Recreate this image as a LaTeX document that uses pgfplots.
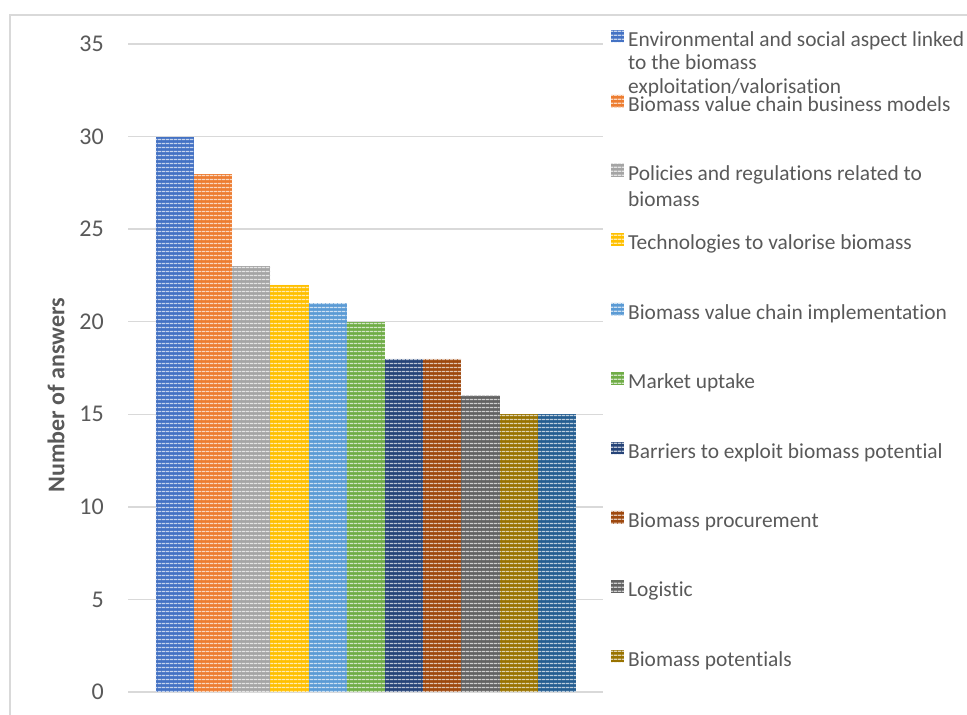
\documentclass[border=0pt]{standalone}
\usepackage{fontspec}
\setmainfont{Carlito}[Ligatures=NoCommon]
\usepackage{pgfplots}
\pgfplotsset{compat=1.18}
\usetikzlibrary{patterns.meta}

% Office palette
\definecolor{c1}{HTML}{4472C4}
\definecolor{c2}{HTML}{ED7D31}
\definecolor{c3}{HTML}{A5A5A5}
\definecolor{c4}{HTML}{FFC000}
\definecolor{c5}{HTML}{5B9BD5}
\definecolor{c6}{HTML}{70AD47}
\definecolor{c7}{HTML}{264478}
\definecolor{c8}{HTML}{9E480E}
\definecolor{c9}{HTML}{636363}
\definecolor{c10}{HTML}{997300}
\definecolor{c11}{HTML}{255E91}
\definecolor{txt}{HTML}{595959}
\definecolor{gridc}{HTML}{D9D9D9}

\tikzset{
  stripebar/.style={ybar, bar width=1, bar shift=0pt, draw=none, fill=#1,
    postaction={pattern={Lines[angle=0,distance=4pt,line width=1.6pt]},
                pattern color=#1!30!white}},
}
\newcommand{\multi}[2][25.5pt]{\parbox[t]{340pt}{\fontsize{21.4pt}{#1}\selectfont\raggedright #2}}

\begin{document}
\begin{tikzpicture}
\draw[gridc, line width=1.3pt] (10pt,-30pt) rectangle (1010pt,700pt);

\begin{axis}[
    at={(128pt,23pt)}, anchor=south west,
    scale only axis,
    width=475pt, height=648pt,
    xmin=-1.225, xmax=11.207,
    ymin=0, ymax=35,
    ytick={0,5,...,35},
    xtick=\empty,
    ymajorgrids,
    major grid style={draw=gridc, line width=1.3pt},
    axis line style={draw=none},
    major tick style={draw=none},
    /pgf/number format/assume math mode=true,
    yticklabel style={font=\fontsize{24pt}{28pt}\selectfont, text=txt,
        anchor=east, inner sep=0pt, xshift=-24pt},
    ylabel={Number of answers},
    ylabel style={at={(axis description cs:-0.1516,0.4583)}, anchor=center,
        font=\fontsize{24pt}{28pt}\selectfont\bfseries, text=txt},
    legend style={at={(axis description cs:1.01684,1.02253)}, anchor=north west,
        draw=none, fill=none, inner sep=0pt, row sep=0pt, column sep=4.4pt,
        cells={anchor=base west},
        nodes={inner sep=0pt, text height=16.6pt, text depth=52.8pt,
            anchor=base west, text=txt,
            font=\fontsize{21.4pt}{25.5pt}\selectfont}},
    legend image code/.code={\fill[#1] (0pt,4pt) rectangle (12.6pt,16.6pt);},
]
\addplot[stripebar=c1] coordinates {(0,30)};
\addlegendentry[text depth=48.4pt]{\multi[23.8pt]{Environmental and social aspect linked\\to the biomass\\exploitation/valorisation}}
\addplot[stripebar=c2] coordinates {(1,28)};
\addlegendentry{Biomass value chain business models}
\addplot[stripebar=c3] coordinates {(2,23)};
\addlegendentry{\multi{Policies and regulations related to\\biomass}}
\addplot[stripebar=c4] coordinates {(3,22)};
\addlegendentry{Technologies to valorise biomass}
\addplot[stripebar=c5] coordinates {(4,21)};
\addlegendentry{Biomass value chain implementation}
\addplot[stripebar=c6] coordinates {(5,20)};
\addlegendentry{Market uptake}
\addplot[stripebar=c7] coordinates {(6,18)};
\addlegendentry{Barriers to exploit biomass potential}
\addplot[stripebar=c8] coordinates {(7,18)};
\addlegendentry{Biomass procurement}
\addplot[stripebar=c9] coordinates {(8,16)};
\addlegendentry{Logistic}
\addplot[stripebar=c10] coordinates {(9,15)};
\addlegendentry{Biomass potentials}
\addplot[stripebar=c11, forget plot] coordinates {(10,15)};
\end{axis}

\pgfresetboundingbox
\useasboundingbox (0,0) rectangle (967pt,715pt);
\end{tikzpicture}
\end{document}
